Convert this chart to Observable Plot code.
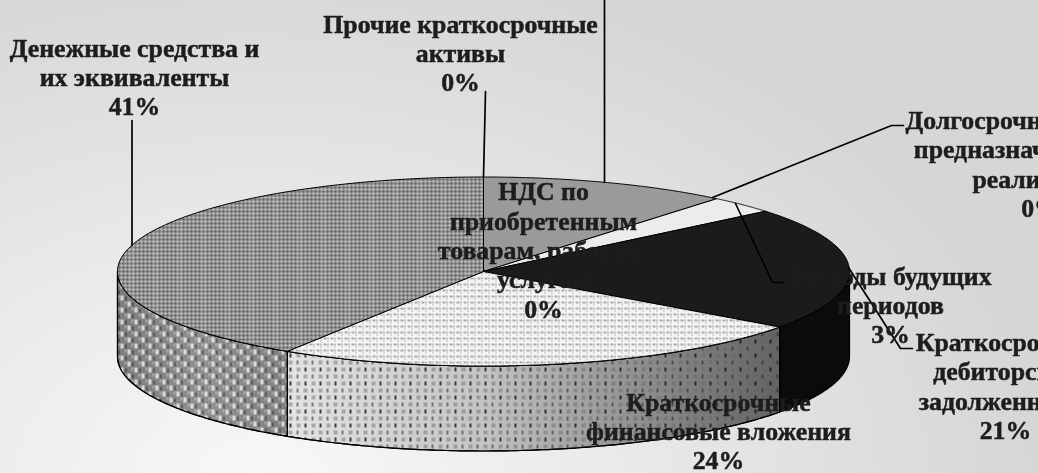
<!DOCTYPE html>
<html>
<head>
<meta charset="utf-8">
<script src="https://cdn.jsdelivr.net/npm/d3@7"></script>
<script src="https://cdn.jsdelivr.net/npm/@observablehq/plot@0.6"></script>
<style>
html,body{margin:0;padding:0;background:#dcdcdc;overflow:hidden}
svg{display:block}
</style>
</head>
<body>
<div id="chart"></div>
<script>
// Categories clockwise from 12 o'clock, and their shares (%)
const categories = ["Запасы","Долгосрочные активы, предназначенные для реализации","Расходы будущих периодов","Краткосрочная дебиторская задолженность","Краткосрочные финансовые вложения","Денежные средства и их эквиваленты","Прочие краткосрочные активы","НДС по приобретенным товарам, работам, услугам"];
const shares = [11, 0, 3, 21, 24, 41, 0, 0];
const percentLabels = ["11%","0%","3%","21%","24%","41%","0%","0%"];
const labelLines = [
  null,
  "Долгосрочные активы,\nпредназначенные для\nреализации",
  "Расходы будущих\nпериодов",
  "Краткосрочная\nдебиторская\nзадолженность",
  "Краткосрочные\nфинансовые вложения",
  "Денежные средства и\nих эквиваленты",
  "Прочие краткосрочные\nактивы",
  "НДС по\nприобретенным\nтоварам, работам,\nуслугам"
];

// Chart geometry (pixels)
const W = 1038, H = 473, CX = 483, CY = 271, RX = 366, RY = 94.5, DEPTH = 85 / 94.5;
const ux = px => (px - CX) / RX, uy = py => (CY - py) / RY;
const labelAt = [null,[1040,163],[890,304],[1005,385],[718,430],[134,76],[460,52],[543,249]];
const leaders = [
  [[604,-5],[604,182]],
  [[712,197],[891,125],[903,125]],
  [[735,203],[772,282],[783,282]],
  [[848,267],[900,348],[912,348]],
  [[485,91],[483,176]],
  [[131.5,120],[131.5,245]]
];

const topFills = ["#9a9a9a","#ececec","#1b1b1b","url(#dotsTop)","url(#checkTop)"];
const visible = shares.map((v,i)=>({v,i})).filter(d=>d.v>0);
let acc = 0;
const slices = visible.map(d => { const a0 = acc/100*2*Math.PI; acc += d.v; return {i:d.i, a0, a1: acc/100*2*Math.PI}; });
slices.forEach((s,k)=>s.fill = topFills[k]);

const arc = (a0,a1,dy=0) => d3.range(0,121).map(k => { const a = a0+(a1-a0)*k/120; return {x:Math.sin(a), y:Math.cos(a)-dy}; });
const poly = s => { const p=[{x:0,y:0},...arc(s.a0,s.a1)]; p.push(p[0]); return p; };
const wall = (a0,a1) => { const p=[...arc(a0,a1),...arc(a1,a0,DEPTH)]; p.push(p[0]); return p; };

const walls = [
  {p:wall(Math.PI/2, slices[2].a1), base:"#0b0b0b", over:null},
  {p:wall(slices[3].a0, slices[3].a1), base:"url(#gradDots)", over:"url(#dotsWall)"},
  {p:wall(slices[4].a0, Math.PI*1.5), base:"url(#gradCheck)", over:"url(#checkWall)"}
];

function defs(){
  const d = d3.create("svg:defs");
  const grad=(id,stops)=>{const g=d.append("linearGradient").attr("id",id).attr("gradientUnits","userSpaceOnUse").attr("x1",116).attr("x2",848).attr("y1",0).attr("y2",0);
    stops.forEach(([o,c])=>g.append("stop").attr("offset",o).attr("stop-color",c));};
  grad("gradDots",[[0.23,"#e4e4e4"],[0.5,"#c4c4c4"],[0.72,"#8e8e8e"],[0.9,"#646464"]]);
  grad("gradCheck",[[0,"#7c7c7c"],[0.12,"#909090"],[0.23,"#808080"]]);
  const pat=(id,w,h,base,rects)=>{const p=d.append("pattern").attr("id",id).attr("patternUnits","userSpaceOnUse").attr("width",w).attr("height",h);
    if(base)p.append("rect").attr("width",w).attr("height",h).attr("fill",base);
    rects.forEach(([x,y,rw,rh,c,o=1])=>p.append("rect").attr("x",x).attr("y",y).attr("width",rw).attr("height",rh).attr("fill",c).attr("opacity",o));};
  const checks=[];
  for(let x=0;x<24;x+=4)for(let y=0;y<8;y+=4){checks.push([x,y,2,2,"#c4c4c4"]);checks.push([x+2,y+2,2,2,"#666"]);}
  checks.push([11,0,1,8,"#e0e0e0",.22],[0,3,24,1,"#555",.12]);
  pat("checkTop",24,8,"#8f8f8f",checks);
  pat("checkWall",14,12,null,[[1,1,3,5,"#fff",.7],[8,7,3,5,"#fff",.7],[6,2,1,4,"#111",.7],[13,8,1,4,"#111",.7],[5,7,2,3,"#fff",.3],[12,1,2,3,"#fff",.3]]);
  pat("dotsWall",15,14,null,[[4,3,2,4,"#111",.8],[11,3,4,4,"#666",.45],[11,10,2,4,"#222",.55],[3,10,4,4,"#666",.45]]);
  pat("dotsTop",7,6,"#f4f4f4",[[1,1,3,2,"#aaa"],[5,4,1,1,"#888"],[5,1,1,2,"#666",.7]]);
  return d.node();
}

const labels = labelLines.map((t,i)=> t==null ? null : ({t: t+"\n"+percentLabels[i], x:ux(labelAt[i][0]), y:uy(labelAt[i][1])})).filter(Boolean);

const marks = [
  defs,
  ...walls.flatMap(w => [
    Plot.line(w.p,{x:"x",y:"y",fill:w.base,stroke:"#000",strokeWidth:1.2}),
    ...(w.over?[Plot.line(w.p,{x:"x",y:"y",fill:w.over,stroke:"#000",strokeWidth:1.2})]:[])
  ]),
  ...slices.map(s => Plot.line(poly(s),{x:"x",y:"y",fill:s.fill,stroke:"#000",strokeWidth:1})),
  ...leaders.map(l => Plot.line(l.map(([a,b])=>({x:ux(a),y:uy(b)})),{x:"x",y:"y",stroke:"#000",strokeWidth:1.7})),
  Plot.text(labels,{x:"x",y:"y",text:"t",fontFamily:"Liberation Serif",fontWeight:"bold",fontSize:25.8,lineHeight:1.14,fill:"#1d1d1d",stroke:"#1d1d1d",strokeWidth:0.5,textAnchor:"middle"})
];

const chart = Plot.plot({
  width:W, height:H, margin:0,
  style:{background:"radial-gradient(ellipse 780px 520px at 260px 480px,#f8f8f8 0%,#eaeaea 45%,#d6d6d6 100%)",overflow:"hidden",filter:"blur(0.35px)"},
  x:{axis:null,domain:[-1,1],range:[CX-RX,CX+RX]},
  y:{axis:null,domain:[-1,1],range:[CY+RY,CY-RY]},
  marks
});
document.getElementById("chart").appendChild(chart);
</script>
</body>
</html>
